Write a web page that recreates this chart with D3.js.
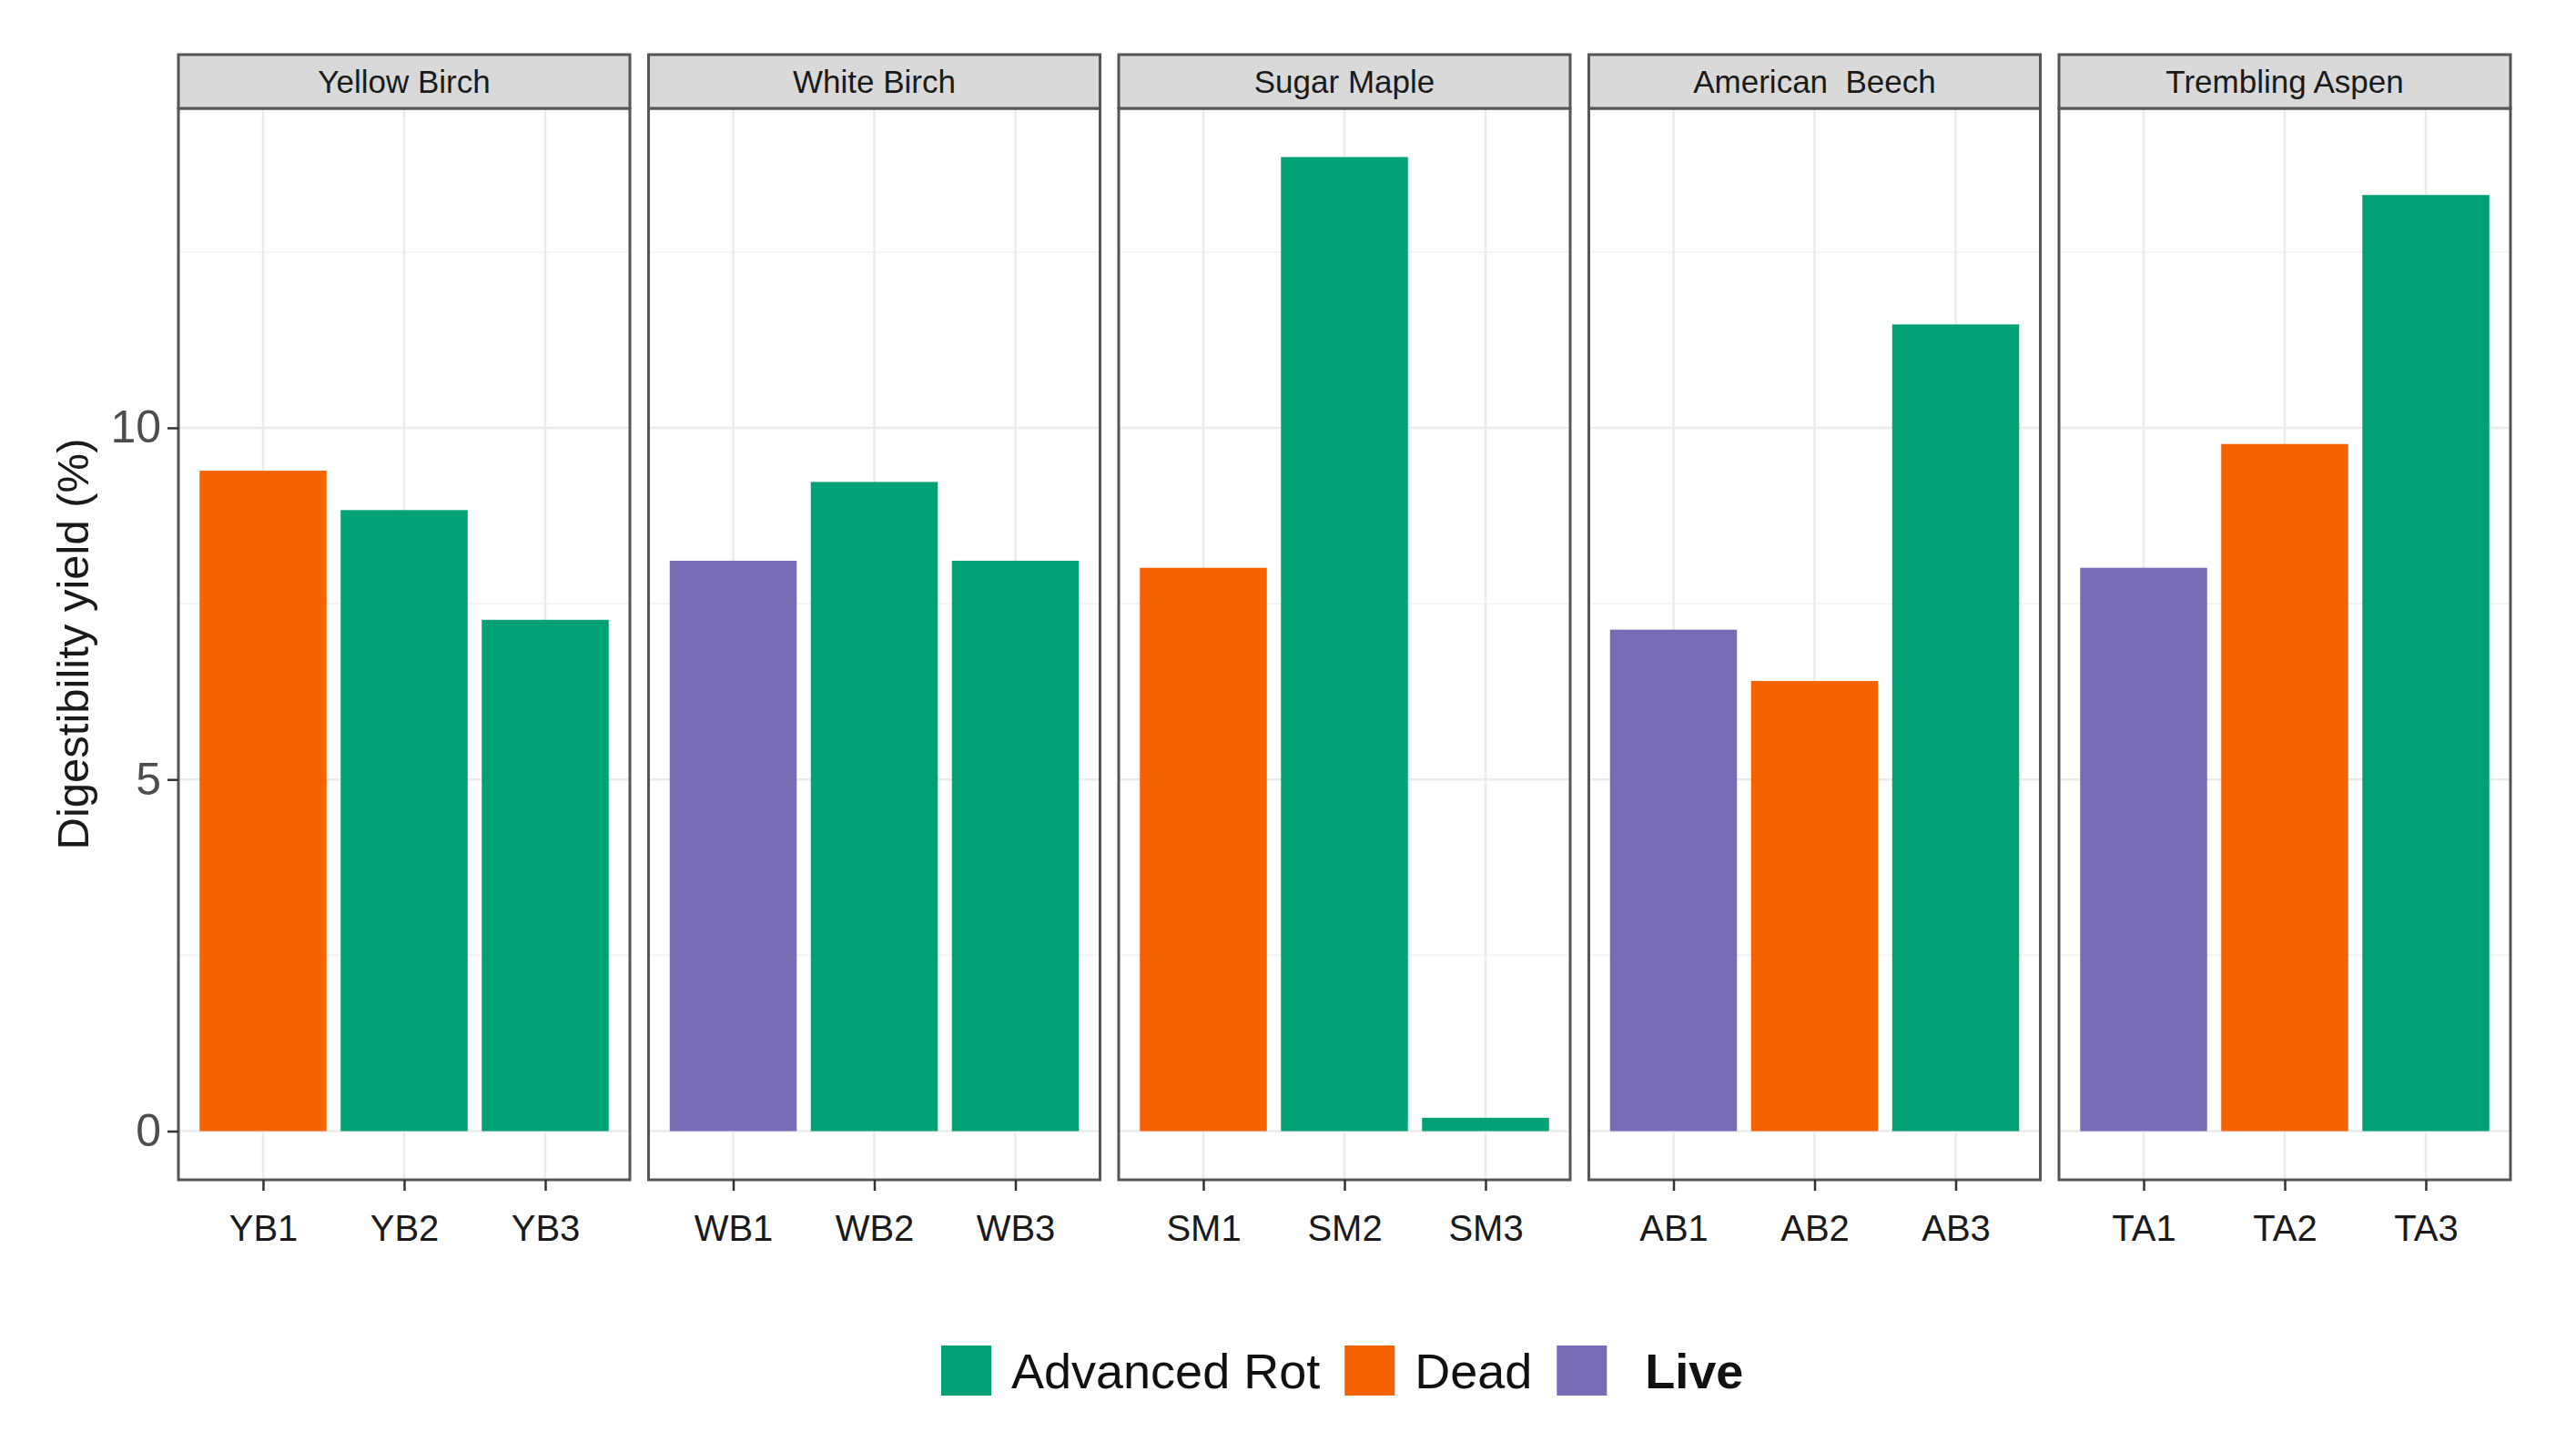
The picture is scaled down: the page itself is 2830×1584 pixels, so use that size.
<!DOCTYPE html>
<html>
<head>
<meta charset="utf-8">
<script src="https://cdn.jsdelivr.net/npm/d3@7"></script>
<style>
  body { margin: 0; background: #fff; }
  text { font-family: "Liberation Sans", Arial, sans-serif; }
</style>
</head>
<body>
<div id="chart"></div>
<script>
// species panels
const species = ["Yellow Birch", "White Birch", "Sugar Maple", "American  Beech", "Trembling Aspen"];
const samples = [
  ["YB1", "YB2", "YB3"],
  ["WB1", "WB2", "WB3"],
  ["SM1", "SM2", "SM3"],
  ["AB1", "AB2", "AB3"],
  ["TA1", "TA2", "TA3"],
];
const yields = [
  [9.39, 8.83, 7.27],
  [8.11, 9.23, 8.11],
  [8.01, 13.85, 0.19],
  [7.13, 6.40, 11.47],
  [8.01, 9.77, 13.31],
];
const conditions = [
  ["Dead", "Advanced Rot", "Advanced Rot"],
  ["Live", "Advanced Rot", "Advanced Rot"],
  ["Dead", "Advanced Rot", "Advanced Rot"],
  ["Live", "Dead", "Advanced Rot"],
  ["Live", "Dead", "Advanced Rot"],
];
const legendLabels = ["Advanced Rot", "Dead", "Live"];
const yTicks = [0, 5, 10];
const yMinor = [2.5, 7.5, 12.5];

const dims = {
  width: 2830,
  height: 1584,
  left: 196,
  panelW: 496,
  gap: 20.5,
  stripTop: 60,
  stripH: 59,
  plotBottom: 1296,
};
dims.plotTop = dims.stripTop + dims.stripH;

const color = d3.scaleOrdinal()
  .domain(legendLabels)
  .range(["#00a275", "#f56200", "#776db6"]);

const svg = d3.select("#chart")
  .append("svg")
  .attr("width", dims.width)
  .attr("height", dims.height);

const maxY = d3.max(yields.flat());
const yScale = d3.scaleLinear()
  .domain([-0.05 * maxY, maxY * 1.05])
  .range([dims.plotBottom, dims.plotTop]);

species.forEach((name, i) => {
  const x0 = dims.left + i * (dims.panelW + dims.gap);
  const g = svg.append("g").attr("transform", `translate(${x0},0)`);

  const xScale = d3.scalePoint()
    .domain(samples[i])
    .range([0, dims.panelW])
    .padding(0.6);
  const barW = xScale.step() * 0.9;

  // grid
  g.selectAll(".minor")
    .data(yMinor)
    .join("line")
    .attr("x1", 0).attr("x2", dims.panelW)
    .attr("y1", d => yScale(d)).attr("y2", d => yScale(d))
    .attr("stroke", "#f2f2f2").attr("stroke-width", 1.5);
  g.selectAll(".major")
    .data(yTicks)
    .join("line")
    .attr("x1", 0).attr("x2", dims.panelW)
    .attr("y1", d => yScale(d)).attr("y2", d => yScale(d))
    .attr("stroke", "#ebebeb").attr("stroke-width", 2.5);
  g.selectAll(".vgrid")
    .data(samples[i])
    .join("line")
    .attr("x1", d => xScale(d)).attr("x2", d => xScale(d))
    .attr("y1", dims.plotTop).attr("y2", dims.plotBottom)
    .attr("stroke", "#ebebeb").attr("stroke-width", 2.5);

  // bars
  g.selectAll(".bar")
    .data(samples[i].map((s, j) => ({ s, v: yields[i][j], c: conditions[i][j] })))
    .join("rect")
    .attr("x", d => xScale(d.s) - barW / 2)
    .attr("width", barW)
    .attr("y", d => yScale(d.v))
    .attr("height", d => yScale(0) - yScale(d.v))
    .attr("fill", d => color(d.c));

  // panel border
  g.append("rect")
    .attr("x", 0).attr("y", dims.plotTop)
    .attr("width", dims.panelW).attr("height", dims.plotBottom - dims.plotTop)
    .attr("fill", "none").attr("stroke", "#555").attr("stroke-width", 3);

  // strip
  g.append("rect")
    .attr("x", 0).attr("y", dims.stripTop)
    .attr("width", dims.panelW).attr("height", dims.stripH)
    .attr("fill", "#d9d9d9").attr("stroke", "#555").attr("stroke-width", 3);
  g.append("text")
    .attr("x", dims.panelW / 2)
    .attr("y", dims.stripTop + dims.stripH / 2)
    .attr("dy", "0.36em")
    .attr("text-anchor", "middle")
    .style("white-space", "pre")
    .attr("font-size", 35)
    .attr("fill", "#1a1a1a")
    .text(name);

  // x axis
  const xAxis = d3.axisBottom(xScale).tickSize(12).tickPadding(27);
  const ax = g.append("g")
    .attr("transform", `translate(0,${dims.plotBottom})`)
    .call(xAxis);
  ax.select(".domain").remove();
  ax.selectAll("line").attr("stroke", "#333").attr("stroke-width", 2.5);
  ax.selectAll("text")
    .attr("font-size", 40)
    .attr("fill", "#1a1a1a")
    .attr("font-family", "Liberation Sans, Arial, sans-serif");
});

// y axis on first panel
const yAxis = d3.axisLeft(yScale).tickValues(yTicks).tickSize(12).tickPadding(7);
const yAx = svg.append("g")
  .attr("transform", `translate(${dims.left},0)`)
  .call(yAxis);
yAx.select(".domain").remove();
yAx.selectAll("line").attr("stroke", "#333").attr("stroke-width", 2.5);
yAx.selectAll("text")
  .attr("font-size", 50)
  .attr("fill", "#4d4d4d")
  .attr("font-family", "Liberation Sans, Arial, sans-serif");

svg.append("text")
  .attr("transform", `translate(97,${(dims.plotTop + dims.plotBottom) / 2}) rotate(-90)`)
  .attr("text-anchor", "middle")
  .attr("font-size", 49)
  .attr("fill", "#1a1a1a")
  .text("Digestibility yield (%)");

// legend
const legend = svg.append("g").attr("transform", "translate(1034,1478)");
let lx = 0;
legendLabels.forEach((lab, i) => {
  legend.append("rect")
    .attr("x", lx).attr("y", 0)
    .attr("width", 55).attr("height", 55)
    .attr("fill", color(lab));
  const extra = lab === "Live" ? 20 : 0;
  const t = legend.append("text")
    .attr("x", lx + 55 + 22 + extra)
    .attr("y", 27.5)
    .attr("dy", "0.36em")
    .attr("font-size", 54)
    .attr("font-weight", lab === "Live" ? "bold" : "normal")
    .attr("fill", "#111")
    .text(lab);
  lx += 55 + 22 + extra + t.node().getComputedTextLength() + 27;
});
</script>
</body>
</html>
